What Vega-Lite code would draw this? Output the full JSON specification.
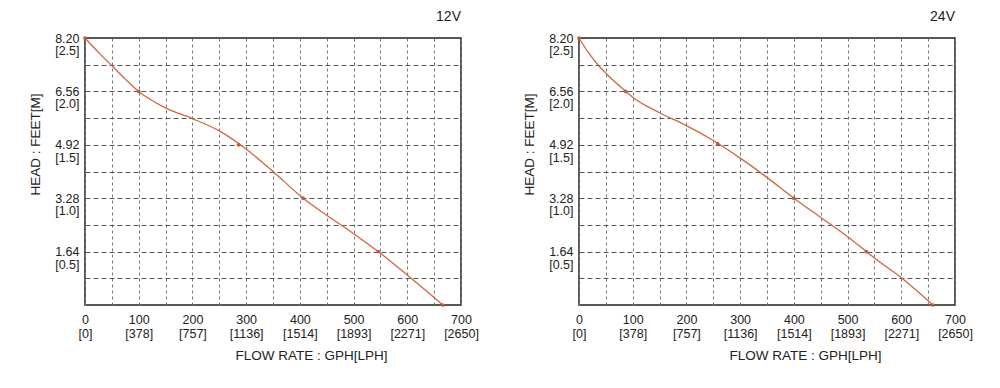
{
  "$schema": "https://vega.github.io/schema/vega-lite/v6.json",
  "padding": {"left": 27, "top": 9, "right": 5, "bottom": 5},
  "background": "white",
  "spacing": 41,
  "config": {
    "font": "Liberation Sans",
    "view": {"stroke": "#222", "strokeWidth": 1.5},
    "title": {"font": "Liberation Sans", "fontSize": 14, "fontWeight": "normal", "anchor": "end", "frame": "group", "color": "#222", "offset": 8},
    "axis": {"labelFont": "Liberation Sans", "titleFont": "Liberation Sans", "labelColor": "#222", "titleColor": "#222", "titleFontWeight": "normal", "ticks": false, "domain": false, "labelOverlap": false, "labelFlush": false}
  },
  "datasets": {
    "curves": [
      {"series": "12V", "gph": 0, "m": 2.5},
      {"series": "12V", "gph": 25, "m": 2.365},
      {"series": "12V", "gph": 50, "m": 2.24},
      {"series": "12V", "gph": 75, "m": 2.115},
      {"series": "12V", "gph": 100, "m": 2.0},
      {"series": "12V", "gph": 125, "m": 1.915},
      {"series": "12V", "gph": 150, "m": 1.845},
      {"series": "12V", "gph": 200, "m": 1.745},
      {"series": "12V", "gph": 250, "m": 1.63},
      {"series": "12V", "gph": 300, "m": 1.46},
      {"series": "12V", "gph": 350, "m": 1.25},
      {"series": "12V", "gph": 406, "m": 1.0},
      {"series": "12V", "gph": 456, "m": 0.82},
      {"series": "12V", "gph": 500, "m": 0.668},
      {"series": "12V", "gph": 546, "m": 0.5},
      {"series": "12V", "gph": 600, "m": 0.28},
      {"series": "12V", "gph": 666, "m": 0},
      {"series": "24V", "gph": 0, "m": 2.5},
      {"series": "24V", "gph": 18, "m": 2.36},
      {"series": "24V", "gph": 36, "m": 2.245},
      {"series": "24V", "gph": 50, "m": 2.17},
      {"series": "24V", "gph": 87, "m": 2.0},
      {"series": "24V", "gph": 100, "m": 1.945},
      {"series": "24V", "gph": 150, "m": 1.8},
      {"series": "24V", "gph": 200, "m": 1.68},
      {"series": "24V", "gph": 250, "m": 1.54},
      {"series": "24V", "gph": 300, "m": 1.375},
      {"series": "24V", "gph": 350, "m": 1.195},
      {"series": "24V", "gph": 400, "m": 1.0},
      {"series": "24V", "gph": 450, "m": 0.82},
      {"series": "24V", "gph": 500, "m": 0.64},
      {"series": "24V", "gph": 535, "m": 0.5},
      {"series": "24V", "gph": 550, "m": 0.44},
      {"series": "24V", "gph": 600, "m": 0.255},
      {"series": "24V", "gph": 659, "m": 0}
    ],
    "markers": [
      {"series": "12V", "gph": 0, "m": 2.5},
      {"series": "12V", "gph": 100, "m": 2.0},
      {"series": "12V", "gph": 286, "m": 1.5},
      {"series": "12V", "gph": 406, "m": 1.0},
      {"series": "12V", "gph": 546, "m": 0.5},
      {"series": "12V", "gph": 666, "m": 0},
      {"series": "24V", "gph": 0, "m": 2.5},
      {"series": "24V", "gph": 87, "m": 2.0},
      {"series": "24V", "gph": 258, "m": 1.51},
      {"series": "24V", "gph": 400, "m": 1.0},
      {"series": "24V", "gph": 535, "m": 0.5},
      {"series": "24V", "gph": 659, "m": 0}
    ]
  },
  "hconcat": [
    {
      "title": "12V",
      "width": 376,
      "height": 267,
      "encoding": {
        "x": {"field": "gph", "type": "quantitative", "scale": {"domain": [0, 700], "nice": false},
          "axis": {"title": "FLOW RATE : GPH[LPH]", "titleFontSize": 13.5, "titleX": 226, "titlePadding": 9,
            "values": [0,50,100,150,200,250,300,350,400,450,500,550,600,650,700],
            "labelExpr": "datum.value % 100 == 0 ? [format(datum.value, 'd'), '[' + ['0','378','757','1136','1514','1893','2271','2650'][datum.value/100] + ']'] : ''",
            "labelFontSize": 12.5, "labelLineHeight": 14, "labelPadding": 8,
            "gridColor": "#777", "gridDash": [3, 3], "gridWidth": 1}},
        "y": {"field": "m", "type": "quantitative", "scale": {"domain": [0, 2.5], "nice": false},
          "axis": {"title": "HEAD : FEET[M]", "titleFontSize": 13.5, "titleY": 106, "titlePadding": 12,
            "values": [0,0.25,0.5,0.75,1,1.25,1.5,1.75,2,2.25,2.5],
            "labelExpr": "datum.value > 0 && (datum.value * 2) % 1 == 0 ? [format(datum.value * 3.28, '.2f'), '[' + format(datum.value, '.1f') + ']'] : ''",
            "labelFontSize": 12.5, "labelLineHeight": 12.5, "labelPadding": 6,
            "gridColor": "#555", "gridDash": [5, 3], "gridWidth": 1}}
      },
      "layer": [
        {
          "data": {"name": "curves"},
          "transform": [{"filter": "datum.series == '12V'"}],
          "mark": {"type": "line", "color": "#d0663c", "strokeWidth": 1.3, "interpolate": "monotone"}
        },
        {
          "data": {"name": "markers"},
          "transform": [{"filter": "datum.series == '12V'"}],
          "mark": {"type": "circle", "color": "#c8583a", "size": 14, "opacity": 1}
        }
      ]
    },
    {
      "title": "24V",
      "width": 376,
      "height": 267,
      "encoding": {
        "x": {"field": "gph", "type": "quantitative", "scale": {"domain": [0, 700], "nice": false},
          "axis": {"title": "FLOW RATE : GPH[LPH]", "titleFontSize": 13.5, "titleX": 226, "titlePadding": 9,
            "values": [0,50,100,150,200,250,300,350,400,450,500,550,600,650,700],
            "labelExpr": "datum.value % 100 == 0 ? [format(datum.value, 'd'), '[' + ['0','378','757','1136','1514','1893','2271','2650'][datum.value/100] + ']'] : ''",
            "labelFontSize": 12.5, "labelLineHeight": 14, "labelPadding": 8,
            "gridColor": "#777", "gridDash": [3, 3], "gridWidth": 1}},
        "y": {"field": "m", "type": "quantitative", "scale": {"domain": [0, 2.5], "nice": false},
          "axis": {"title": "HEAD : FEET[M]", "titleFontSize": 13.5, "titleY": 106, "titlePadding": 12,
            "values": [0,0.25,0.5,0.75,1,1.25,1.5,1.75,2,2.25,2.5],
            "labelExpr": "datum.value > 0 && (datum.value * 2) % 1 == 0 ? [format(datum.value * 3.28, '.2f'), '[' + format(datum.value, '.1f') + ']'] : ''",
            "labelFontSize": 12.5, "labelLineHeight": 12.5, "labelPadding": 6,
            "gridColor": "#555", "gridDash": [5, 3], "gridWidth": 1}}
      },
      "layer": [
        {
          "data": {"name": "curves"},
          "transform": [{"filter": "datum.series == '24V'"}],
          "mark": {"type": "line", "color": "#d0663c", "strokeWidth": 1.3, "interpolate": "monotone"}
        },
        {
          "data": {"name": "markers"},
          "transform": [{"filter": "datum.series == '24V'"}],
          "mark": {"type": "circle", "color": "#c8583a", "size": 14, "opacity": 1}
        }
      ]
    }
  ]
}
